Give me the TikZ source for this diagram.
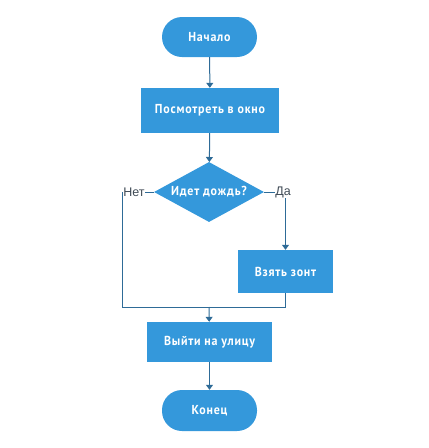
\documentclass[tikz,border=0pt]{standalone}
\usepackage{fontspec}
\usepackage{tikz}
\usetikzlibrary{arrows.meta}
\usetikzlibrary{shapes.geometric}
\newfontfamily\boxfont[FakeStretch=0.92,LetterSpace=6]{PT Sans Bold}
\newfontfamily\labelfont{Liberation Sans}
\definecolor{flowblue}{HTML}{3498DB}
\definecolor{flowline}{HTML}{2E6B97}
\definecolor{flowtext}{HTML}{3F4A55}

\tikzset{
  terminal/.style={draw=none, fill=flowblue, rectangle, rounded corners=20pt, text=white, font=\boxfont\fontsize{13}{15}\selectfont, minimum width=95pt, minimum height=40pt},
  process/.style={draw=none, fill=flowblue, rectangle, text=white, font=\boxfont\fontsize{13}{15}\selectfont, minimum height=43pt},
  decision/.style={draw=none, fill=flowblue, diamond, aspect=1.85, text=white, font=\boxfont\fontsize{13}{15}\selectfont, inner sep=0pt, minimum width=110pt, minimum height=60pt},
  answer/.style={text=flowtext, font=\labelfont\fontsize{12.5}{14}\selectfont, inner sep=0.5pt},
  flow/.style={draw=flowline, line width=1pt},
  arrow/.style={flow, -{Triangle[width=7pt,length=5pt]}}
}

\begin{document}
\begin{tikzpicture}[x=1pt, y=-1pt]

\useasboundingbox (0,0) rectangle (429,448);

% blocks

\node[terminal] (start) at (209.5, 37) {Начало};
\node[process, minimum width=138pt, minimum height=45pt] (look) at (210, 110.5) {Посмотреть в окно};
\node[decision] (rain) at (209, 192) {Идет дождь?};
\node[process, minimum width=95pt] (umb) at (285.5, 271.5) {Взять зонт};
\node[process, minimum width=125pt, minimum height=40pt] (out) at (209.5, 342) {Выйти на улицу};
\node[terminal, minimum height=41pt] (end) at (209.5, 410.5) {Конец};

% answers

\node[answer] (no) at (134, 192) {Нет};
\node[answer] (yes) at (283, 192) {Да};
\coordinate (join) at (209, 307);

% connectors

\draw [arrow] (start) -- (look);
\draw [arrow] (look) -- (rain);
\draw [flow] (rain.west) -- (no.east) (rain.east) -- (yes.west);
\draw [arrow] (yes.south -| umb.north) -- (umb.north);
\draw [flow] (no.west) |- (join) (umb.south) |- (join);
\draw [arrow] (join) -- (out);
\draw [arrow] (out) -- (end);

\end{tikzpicture}
\end{document}
